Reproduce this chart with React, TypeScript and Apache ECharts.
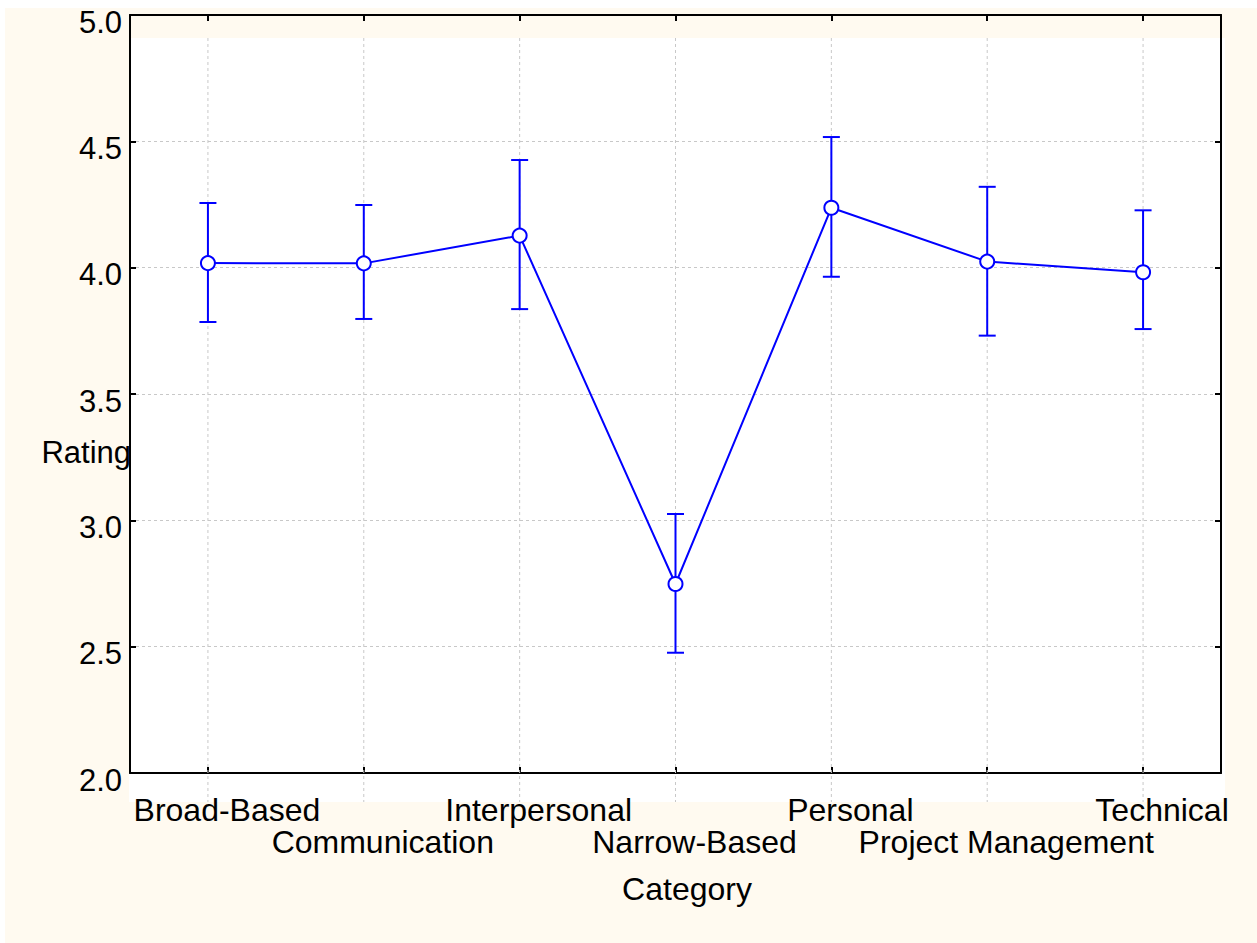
import React, { useEffect, useRef } from "react";
import * as echarts from "echarts";

const categories = [
  "Broad-Based",
  "Communication",
  "Interpersonal",
  "Narrow-Based",
  "Personal",
  "Project Management",
  "Technical",
];
const means = [4.018, 4.017, 4.127, 2.748, 4.237, 4.024, 3.982];
const upper = [4.256, 4.248, 4.426, 3.025, 4.517, 4.32, 4.227];
const lower = [3.785, 3.797, 3.836, 2.476, 3.964, 3.731, 3.757];
const yMin = 2.0;
const yMax = 5.0;
const yStep = 0.5;

const FONT = "'Liberation Sans', Arial, sans-serif";
const BLUE = "#0000ff";

export default function App() {
  const ref = useRef<HTMLDivElement>(null);

  useEffect(() => {
    if (!ref.current) return;
    const chart = echarts.init(ref.current, null, { renderer: "svg" });

    const errData = categories.map((_, i) => [i, lower[i], upper[i]]);
    const gridData = categories.map((_, i) => [i, yMin]);

    const axisLine = { show: true, onZero: false, lineStyle: { color: "#000", width: 2 } };

    chart.setOption({
      animation: false,
      backgroundColor: "#ffffff",
      textStyle: { fontFamily: FONT },
      graphic: [
        {
          type: "rect",
          z: -10,
          shape: { x: 5, y: 8, width: 1252, height: 935 },
          style: { fill: "#FFFAF0" },
          silent: true,
        },
        {
          type: "rect",
          z: -9,
          shape: { x: 129, y: 38, width: 1096, height: 764 },
          style: { fill: "#ffffff" },
          silent: true,
        },
        {
          type: "text",
          z: 5,
          x: 131,
          y: 452,
          style: {
            text: "Rating",
            fontSize: 31,
            fontFamily: FONT,
            fill: "#000",
            align: "right",
            verticalAlign: "middle",
          },
        },
        {
          type: "text",
          z: 5,
          x: 687,
          y: 889,
          style: {
            text: "Category",
            fontSize: 32,
            fontFamily: FONT,
            fill: "#000",
            align: "center",
            verticalAlign: "middle",
          },
        },
      ],
      grid: { left: 130, top: 15, width: 1091, height: 758, show: false },
      xAxis: [
        {
          type: "category",
          data: categories,
          position: "bottom",
          boundaryGap: true,
          axisLine,
          axisTick: { show: true, inside: true, alignWithLabel: true, length: 6, lineStyle: { color: "#000", width: 2 } },
          splitLine: { show: false },
          axisLabel: {
            interval: 0,
            fontSize: 32,
            fontFamily: FONT,
            color: "#000",
            margin: 21,
            lineHeight: 32,
            verticalAlign: "top",
            padding: [0, 0, 0, 38],
            formatter: (v: string, i: number) => (i % 2 === 1 ? "\n" + v : v),
          },
        },
        {
          type: "category",
          data: categories,
          position: "top",
          boundaryGap: true,
          axisLine,
          axisTick: { show: true, inside: true, alignWithLabel: true, length: 6, lineStyle: { color: "#000", width: 2 } },
          axisLabel: { show: false },
          splitLine: { show: false },
        },
      ],
      yAxis: [
        {
          type: "value",
          min: yMin,
          max: yMax,
          interval: yStep,
          position: "left",
          axisLine,
          axisTick: { show: true, inside: true, length: 6, lineStyle: { color: "#000", width: 2 } },
          axisLabel: {
            fontSize: 31,
            fontFamily: FONT,
            color: "#000",
            margin: 8,
            verticalAlign: "top",
            lineHeight: 14,
            formatter: (v: number) => v.toFixed(1),
          },
          splitLine: { show: true, lineStyle: { color: "#c8c8c8", width: 1, type: [3, 3] } },
        },
        {
          type: "value",
          min: yMin,
          max: yMax,
          interval: yStep,
          position: "right",
          axisLine,
          axisTick: { show: true, inside: true, length: 6, lineStyle: { color: "#000", width: 2 } },
          axisLabel: { show: false },
          splitLine: { show: false },
        },
      ],
      series: [
        {
          type: "custom",
          name: "vgrid",
          z: 1,
          silent: true,
          clip: false,
          data: gridData,
          renderItem: (params: any, api: any) => {
            const x = api.coord([api.value(0), yMin])[0];
            const cs = params.coordSys;
            return {
              type: "line",
              shape: { x1: x, y1: cs.y + 23, x2: x, y2: cs.y + cs.height + 29 },
              style: { stroke: "#c8c8c8", lineWidth: 1, lineDash: [3, 3] },
            };
          },
        },
        {
          type: "custom",
          name: "err",
          z: 3,
          silent: true,
          data: errData,
          renderItem: (params: any, api: any) => {
            const lo = api.coord([api.value(0), api.value(1)]);
            const hi = api.coord([api.value(0), api.value(2)]);
            const hw = 8.5;
            const style = { stroke: BLUE, lineWidth: 2 };
            return {
              type: "group",
              children: [
                { type: "line", shape: { x1: lo[0], y1: lo[1], x2: hi[0], y2: hi[1] }, style },
                { type: "line", shape: { x1: hi[0] - hw, y1: hi[1], x2: hi[0] + hw, y2: hi[1] }, style },
                { type: "line", shape: { x1: lo[0] - hw, y1: lo[1], x2: lo[0] + hw, y2: lo[1] }, style },
              ],
            };
          },
        },
        {
          type: "line",
          name: "Rating",
          z: 4,
          data: means,
          symbol: "circle",
          symbolSize: 14,
          showSymbol: true,
          lineStyle: { color: BLUE, width: 2 },
          itemStyle: { color: "#ffffff", borderColor: BLUE, borderWidth: 2 },
        },
      ],
    });

    return () => chart.dispose();
  }, []);

  return (
    <div
      ref={ref}
      style={{ position: "fixed", left: 0, top: 0, width: 1257, height: 943, background: "#fff" }}
    />
  );
}
